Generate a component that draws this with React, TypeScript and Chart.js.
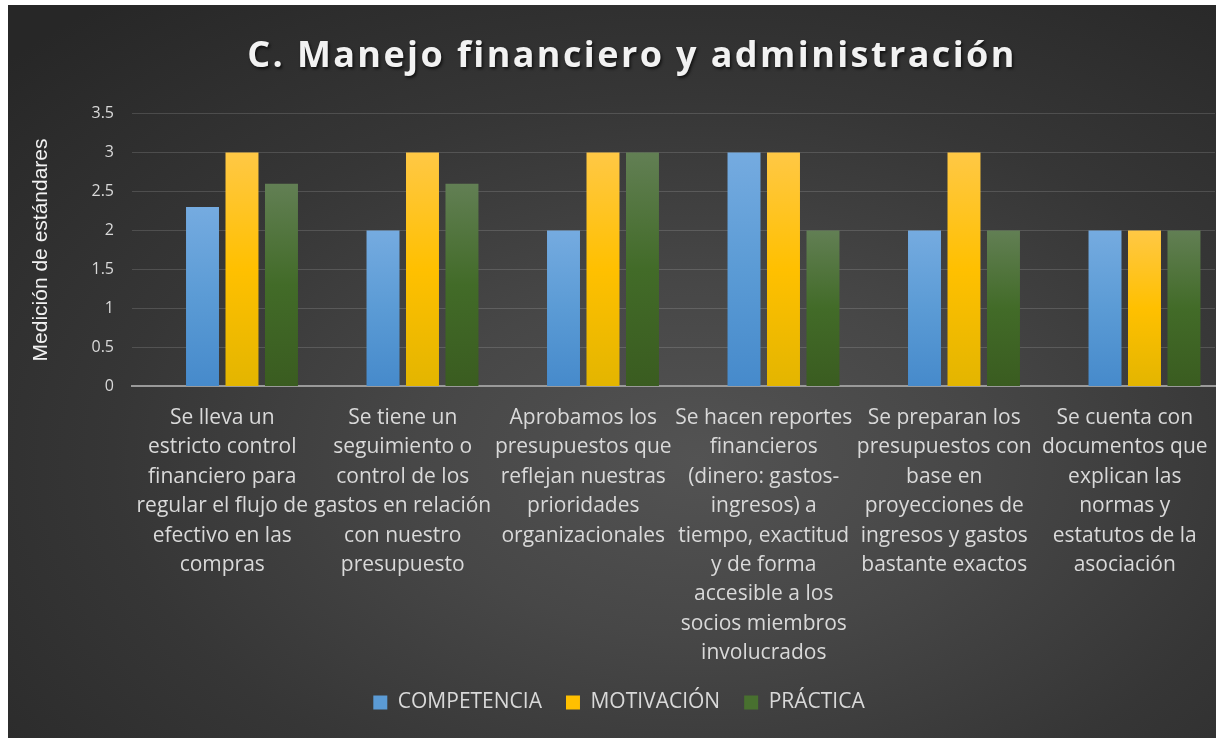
import React, { useEffect, useRef } from "react";
import { Chart, registerables } from "chart.js";

Chart.register(...registerables);

const chartTitle = "C. Manejo financiero y administración";
const yAxisTitle = "Medición de estándares";

const categories: string[][] = [
  ["Se lleva un", "estricto control", "financiero para", "regular el flujo de", "efectivo en las", "compras"],
  ["Se tiene un", "seguimiento o", "control de los", "gastos en relación", "con nuestro", "presupuesto"],
  ["Aprobamos los", "presupuestos que", "reflejan nuestras", "prioridades", "organizacionales"],
  ["Se hacen reportes", "financieros", "(dinero: gastos-", "ingresos) a", "tiempo, exactitud", "y de forma", "accesible a los", "socios miembros", "involucrados"],
  ["Se preparan los", "presupuestos con", "base en", "proyecciones de", "ingresos y gastos", "bastante exactos"],
  ["Se cuenta con", "documentos que", "explican las", "normas y", "estatutos de la", "asociación"],
];

const seriesNames = ["COMPETENCIA", "MOTIVACIÓN", "PRÁCTICA"];
const competencia = [2.3, 2, 2, 3, 2, 2];
const motivacion = [3, 3, 3, 3, 3, 2];
const practica = [2.6, 2.6, 3, 2, 2, 2];
// the original chart keeps an empty first series slot in each group
const emptySeries: (number | null)[] = [null, null, null, null, null, null];

const yMin = 0;
const yMax = 3.5;
const yStep = 0.5;

const palettes = [
  { top: "#75abe0", mid: "#5b9bd5", bottom: "#468acb", legend: "#5b9bd5" },
  { top: "#ffc845", mid: "#ffc000", bottom: "#e3b500", legend: "#ffc000" },
  { top: "#627f54", mid: "#426b28", bottom: "#3a5c20", legend: "#48702f" },
];

function barGradient(idx: number) {
  return (ctx: any) => {
    const chart = ctx.chart;
    const p = palettes[idx];
    const yScale = chart.scales?.y;
    if (!chart.chartArea || !yScale || ctx.raw == null) return p.mid;
    const top = yScale.getPixelForValue(ctx.raw);
    const bottom = yScale.getPixelForValue(0);
    if (!isFinite(top) || !isFinite(bottom) || bottom - top < 1) return p.mid;
    const g = chart.ctx.createLinearGradient(0, top, 0, bottom);
    g.addColorStop(0, p.top);
    g.addColorStop(0.5, p.mid);
    g.addColorStop(1, p.bottom);
    return g;
  };
}

const titlePlugin = {
  id: "spacedTitle",
  afterDraw(chart: any) {
    const ctx = chart.ctx;
    ctx.save();
    ctx.font = "bold 36px 'Open Sans'";
    (ctx as any).letterSpacing = "2.4px";
    ctx.fillStyle = "#f2f2f2";
    ctx.textAlign = "center";
    ctx.textBaseline = "alphabetic";
    ctx.shadowColor = "rgba(0,0,0,0.65)";
    ctx.shadowOffsetX = 1.5;
    ctx.shadowOffsetY = 2;
    ctx.shadowBlur = 3;
    ctx.fillText(chartTitle, 624, 62);
    ctx.restore();
  },
};

export default function App() {
  const canvasRef = useRef<HTMLCanvasElement | null>(null);

  useEffect(() => {
    if (!canvasRef.current) return;
    const chart = new Chart(canvasRef.current, {
      type: "bar",
      data: {
        labels: categories,
        datasets: [
          { label: "", data: emptySeries, backgroundColor: "rgba(0,0,0,0)" },
          { label: seriesNames[0], data: competencia, backgroundColor: barGradient(0) as any },
          { label: seriesNames[1], data: motivacion, backgroundColor: barGradient(1) as any },
          { label: seriesNames[2], data: practica, backgroundColor: barGradient(2) as any },
        ],
      },
      plugins: [titlePlugin],
      options: {
        animation: false,
        responsive: false,
        maintainAspectRatio: false,
        datasets: {
          bar: { categoryPercentage: 0.875, barPercentage: 0.835 },
        },
        layout: { padding: { top: 108.5, left: 15, right: 1, bottom: 15 } },
        plugins: {
          title: { display: false },
          tooltip: { enabled: false },
          legend: {
            position: "bottom",
            labels: {
              color: "#d9d9d9",
              font: { family: "'Open Sans'", size: 21 },
              boxWidth: 14,
              boxHeight: 14,
              padding: 24,
              generateLabels: (ch: any) =>
                ch.data.datasets
                  .map((ds: any, i: number) => ({ ds, i }))
                  .filter((o: any) => o.i > 0)
                  .map((o: any) => ({
                    text: o.ds.label,
                    fillStyle: palettes[o.i - 1].legend,
                    strokeStyle: palettes[o.i - 1].legend,
                    lineWidth: 0,
                    fontColor: "#d9d9d9",
                    datasetIndex: o.i,
                    hidden: false,
                  })),
            },
          },
        },
        scales: {
          x: {
            grid: { display: true, drawOnChartArea: false, drawTicks: false },
            border: { display: true, color: "#9a9a9a", width: 2 },
            ticks: {
              color: "#d9d9d9",
              font: { family: "'Open Sans'", size: 21, lineHeight: 1.4 },
              padding: 17,
              maxRotation: 0,
              minRotation: 0,
              autoSkip: false,
            },
            afterFit: (s: any) => {
              s.height = 281.6;
              s.paddingLeft = 0;
              s.paddingRight = 0;
            },
          },
          y: {
            min: yMin,
            max: yMax,
            ticks: {
              stepSize: yStep,
              color: "#d9d9d9",
              font: { family: "'Open Sans'", size: 16 },
              padding: 18,
              callback: (v: any) => String(Number(v)),
            },
            grid: { color: "rgba(255,255,255,0.14)", lineWidth: 1, drawTicks: false },
            border: { display: false },
            title: {
              display: true,
              text: yAxisTitle,
              color: "#f2f2f2",
              font: { family: "'Liberation Sans'", size: 21, weight: "normal" },
              padding: { top: 6, bottom: 0 },
            },
            afterFit: (s: any) => {
              s.width = 109;
            },
          },
        },
      },
    });
    return () => chart.destroy();
  }, []);

  return (
    <div
      style={{
        position: "absolute",
        left: 8,
        top: 5,
        width: 1208,
        height: 733,
        background:
          "radial-gradient(ellipse 78% 80% at 57% 62%, #535353 0%, #474747 30%, #363636 62%, #272727 100%)",
      }}
    >
      <canvas ref={canvasRef} width={1208} height={733} style={{ display: "block" }} />
    </div>
  );
}
